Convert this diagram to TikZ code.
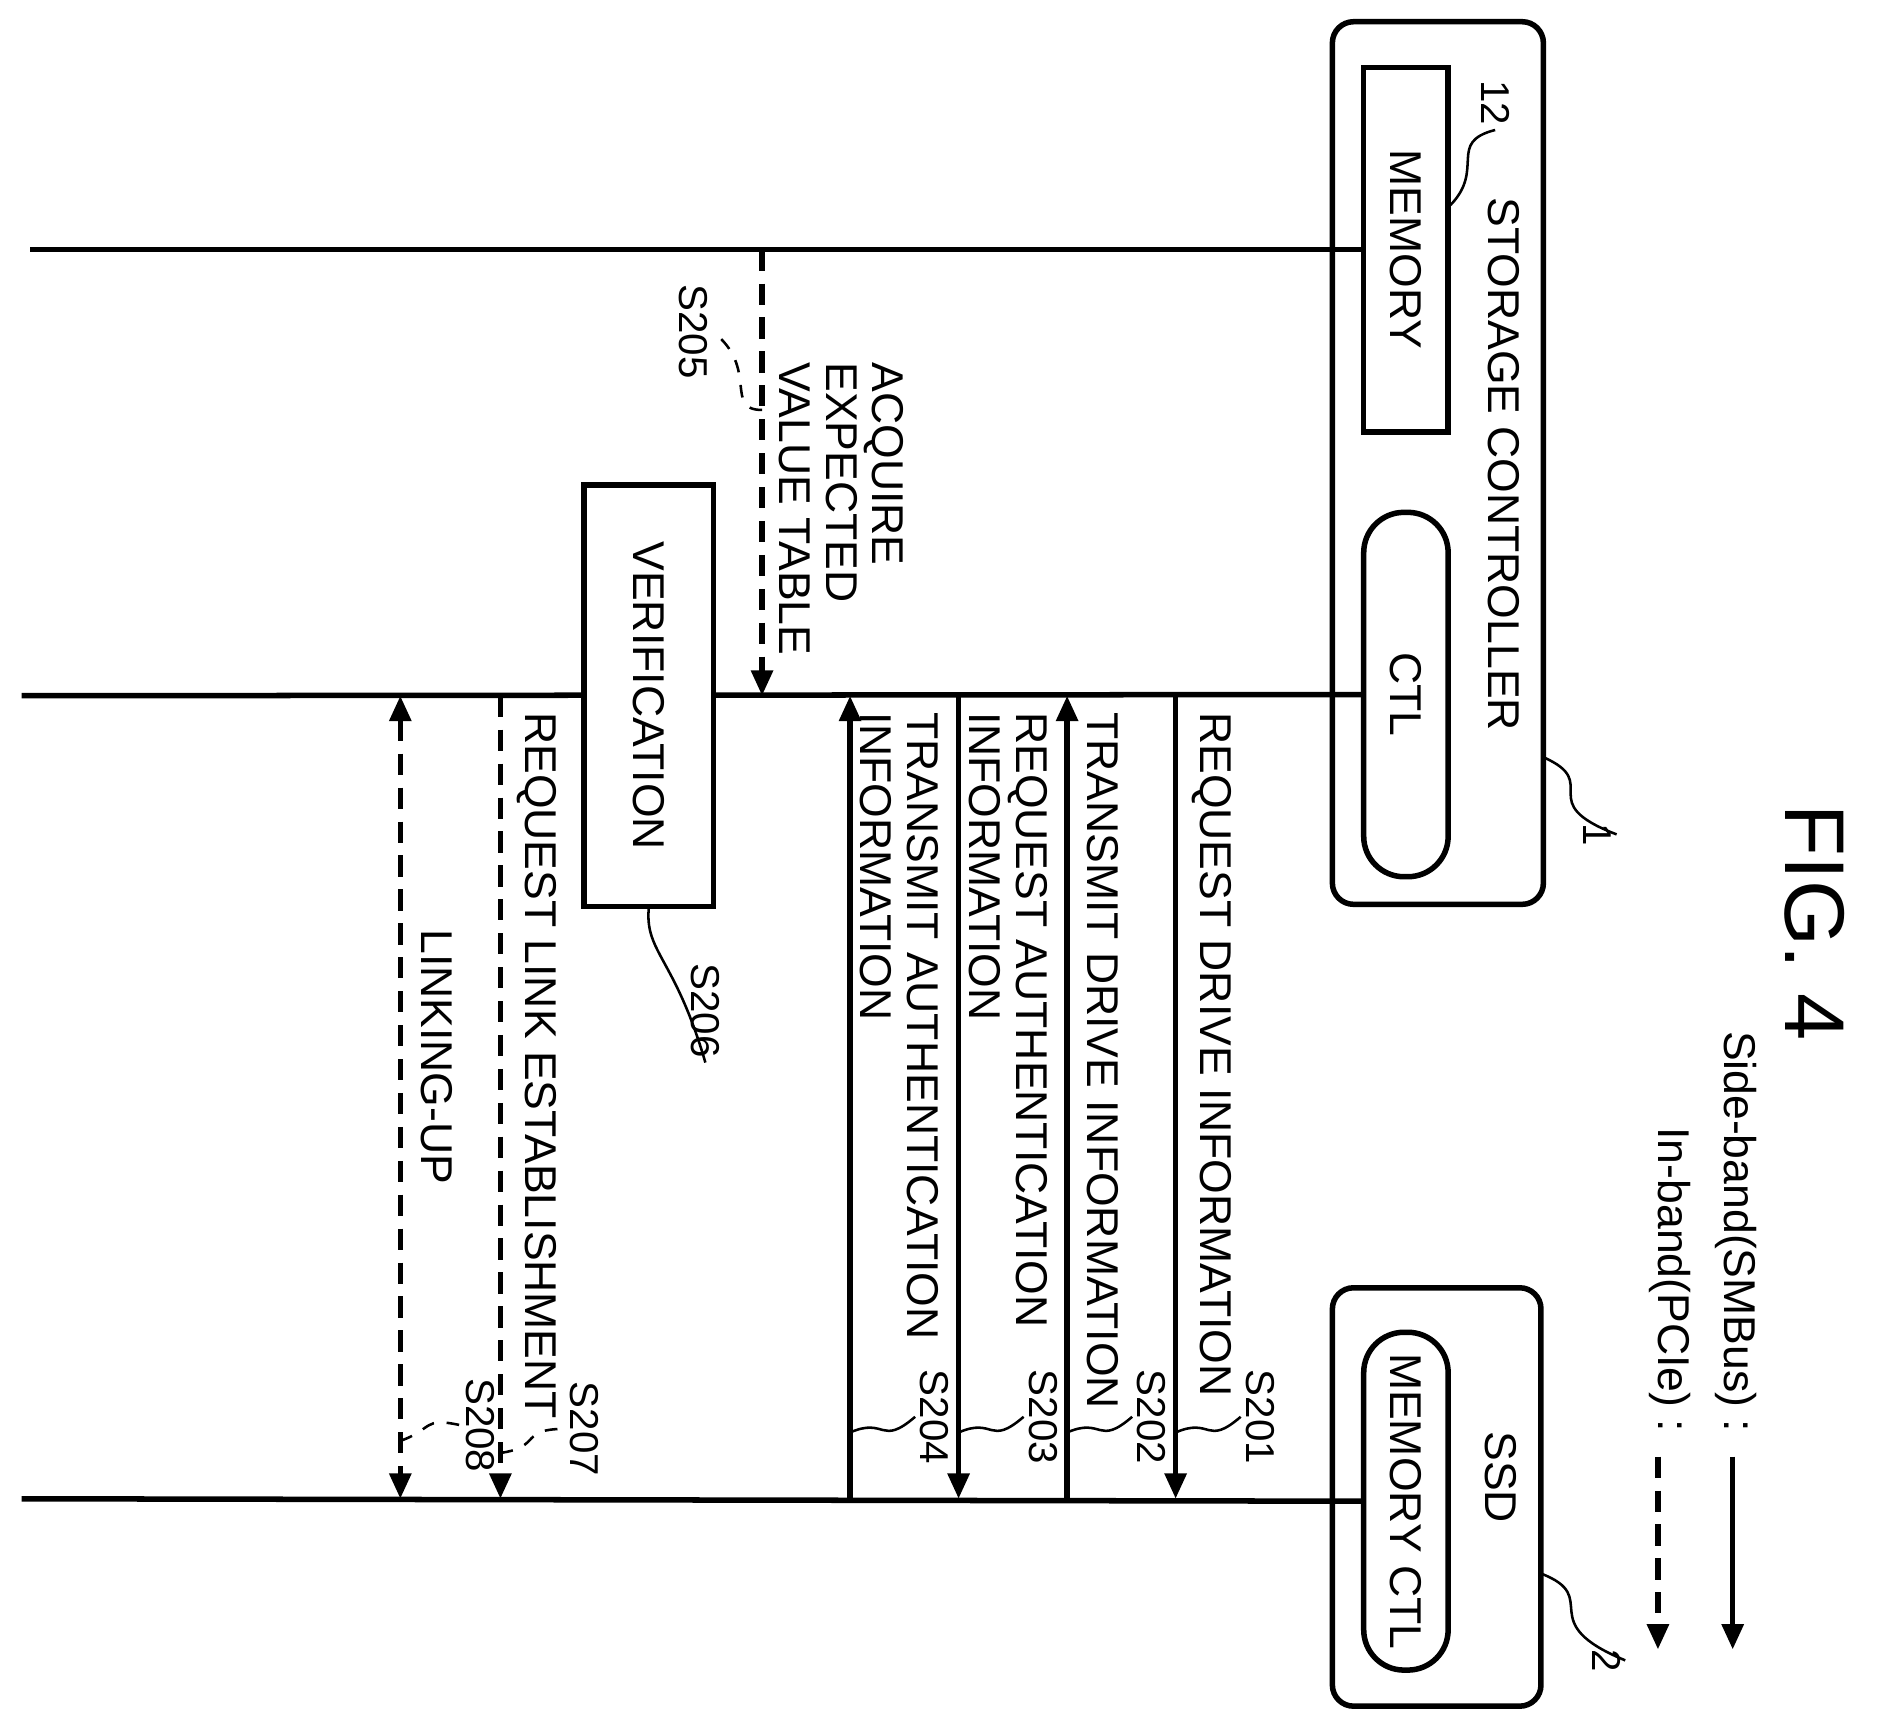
\documentclass[tikz,border=0pt]{standalone}
\usepackage{fontspec}
\setmainfont{Liberation Sans}
\usetikzlibrary{arrows.meta}
\tikzset{
  lbl/.style = {rotate=-90, anchor=west, align=left, inner sep=0pt, font=\fontsize{10.5}{11}\selectfont},
  stp/.style = {rotate=-90, inner sep=1pt, font=\fontsize{9.5}{11}\selectfont},
  sb/.style = {line width=1.3pt, -{Triangle[length=6pt,width=5pt]}},
  ib/.style = {sb, dash pattern=on 5pt off 3pt},
  lead/.style = {line width=0.6pt},
  pill/.style = {draw, line width=1.3pt, rounded corners=9.5pt},
  box/.style = {draw, line width=1.3pt}
}
\begin{document}
\begin{tikzpicture}[x=0.01cm, y=-0.01cm]
  \useasboundingbox (0,0) rectangle (1560,1430);

  % units
  \draw[box, rounded corners=5pt] (1105,18) rectangle (1280,750);
  \node[rotate=-90, font=\fontsize{10.5}{12}\selectfont] (sc) at (1247,385) {STORAGE CONTROLLER};
  \node[box, minimum width=3.02cm, minimum height=0.7cm, rotate=-90, font=\fontsize{10.5}{12}\selectfont] (mem) at (1166,207) {MEMORY};
  \node[pill, minimum width=3.02cm, minimum height=0.7cm, rotate=-90, font=\fontsize{10.5}{12}\selectfont] (ctl) at (1166,576) {CTL};
  \draw[box, rounded corners=5pt] (1105,1068) rectangle (1278,1415);
  \node[rotate=-90, font=\fontsize{10.5}{12}\selectfont] (ssd) at (1245,1225) {SSD};
  \node[pill, minimum width=2.8cm, minimum height=0.7cm, rotate=-90, font=\fontsize{10.5}{12}\selectfont] (mctl) at (1166,1245) {MEMORY CTL};

  % reference numerals
  \node[stp] (n12) at (1240,85) {12};
  \node[stp] (n1) at (1325,692) {1};
  \node[stp] (n2) at (1332,1377) {2};
  \coordinate (e12) at (1203,170);
  \coordinate (e1) at (1280,628);
  \coordinate (e2) at (1278,1305);
  \draw[lead] (n12.east) .. controls (1200,118) and (1232,140) .. (e12);
  \draw[lead] (e1) .. controls (1330,650) and (1270,665) .. (n1.north);
  \draw[lead] (e2) .. controls (1330,1325) and (1270,1345) .. (n2.north);

  % lifelines
  \coordinate (mL) at (25,207);
  \coordinate (cL) at (18,577);
  \coordinate (sL) at (18,1243);
  \draw[line width=1.3pt] (mL) -- (mem.south);
  \draw[line width=1.3pt] (cL) -- (ctl.south);
  \draw[line width=1.3pt] (sL) -- (mctl.south);

  % side-band messages
  \foreach \x/\n in {975/1, 885/2, 795/3, 705/4} {
    \coordinate (c\n) at (\x,577);
    \coordinate (s\n) at (\x,1243);
  }
  \draw[sb] (c1) -- (s1);
  \draw[sb] (s2) -- (c2);
  \draw[sb] (c3) -- (s3);
  \draw[sb] (s4) -- (c4);
  \node[lbl] (t1) at (1005,590) {REQUEST DRIVE INFORMATION};
  \node[lbl] (t2) at (915,590) {TRANSMIT DRIVE INFORMATION};
  \node[lbl] (t3) at (836,590) {REQUEST AUTHENTICATION\\INFORMATION};
  \node[lbl] (t4) at (746,590) {TRANSMIT AUTHENTICATION\\INFORMATION};

  % in-band and verification
  \coordinate (m5) at (632,207);
  \coordinate (c5) at (632,577);
  \draw[ib] (m5) -- (c5);
  \node[lbl] (t5) at (698,300) {ACQUIRE\\EXPECTED\\VALUE TABLE};
  \node[box, fill=white, minimum width=3.49cm, minimum height=1.07cm, rotate=-90, font=\fontsize{10.5}{12}\selectfont] (ver) at (538,577) {VERIFICATION};
  \coordinate (c7) at (415,577);
  \coordinate (s7) at (415,1243);
  \draw[ib] (c7) -- (s7);
  \node[lbl] (t7) at (445,590) {REQUEST LINK ESTABLISHMENT};
  \coordinate (c8) at (332,577);
  \coordinate (s8) at (332,1243);
  \draw[ib, {Triangle[length=6pt,width=5pt]}-{Triangle[length=6pt,width=5pt]}] (c8) -- (s8);
  \node[lbl] (t8) at (362,770) {LINKING-UP};

  % step labels
  \node[stp] (S201) at (1045,1175) {S201};
  \node[stp] (S202) at (955,1175) {S202};
  \node[stp] (S203) at (865,1175) {S203};
  \node[stp] (S204) at (775,1175) {S204};
  \node[stp] (S205) at (575,275) {S205};
  \node[stp] (S206) at (585,838) {S206};
  \node[stp] (S207) at (485,1185) {S207};
  \node[stp] (S208) at (398,1182) {S208};
  \foreach \n/\x in {1/975, 2/885, 3/795, 4/705} {
    \coordinate (a\n) at (\x,1188);
    \draw[lead] (a\n) .. controls (\x+30,1175) and (\x+25,1200) .. (S20\n.south);
  }
  \coordinate (a5) at (632,340);
  \draw[lead, dashed] (a5) .. controls (600,340) and (630,305) .. (S205.north);
  \draw[lead] (ver.east) .. controls (535,790) and (560,795) .. (S206.east);
  \coordinate (a7) at (415,1205);
  \draw[lead, dashed] (a7) .. controls (450,1200) and (430,1185) .. (S207.south);
  \coordinate (a8) at (332,1195);
  \draw[lead, dashed] (a8) .. controls (360,1185) and (350,1175) .. (S208.south);

  % legend
  \node[rotate=-90, anchor=east, font=\fontsize{10.5}{12}\selectfont] (lg1) at (1440,1200) {Side-band(SMBus) :};
  \node[rotate=-90, anchor=east, font=\fontsize{10.5}{12}\selectfont] (lg2) at (1385,1200) {In-band(PCIe) :};
  \coordinate (l1a) at (1437,1208);
  \coordinate (l1b) at (1437,1368);
  \coordinate (l2a) at (1375,1208);
  \coordinate (l2b) at (1375,1368);
  \draw[sb] (l1a) -- (l1b);
  \draw[ib] (l2a) -- (l2b);
  \node[rotate=-90, font=\fontsize{20}{24}\selectfont] (fig) at (1505,765) {FIG. 4};
\end{tikzpicture}
\end{document}
